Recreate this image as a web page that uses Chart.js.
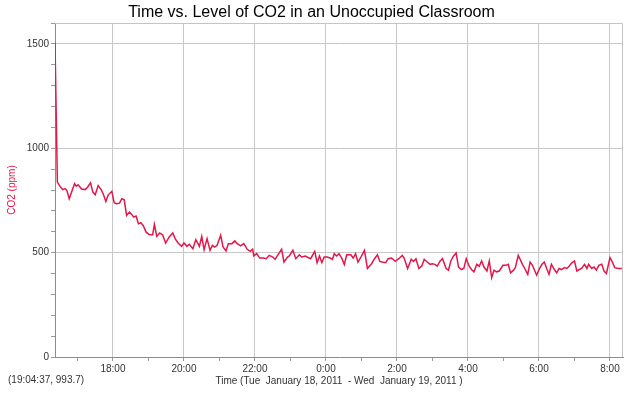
<!DOCTYPE html>
<html lang="en">
<head>
  <meta charset="UTF-8">
  <title>Time vs. Level of CO2 in an Unoccupied Classroom</title>
  <script src="https://cdn.jsdelivr.net/npm/chart.js"></script>
  <style>
    body { margin: 0; background: #fff; }
    #wrap { position: relative; width: 640px; height: 393px; }
    #cursor {
      position: absolute; left: 8px; top: 374px;
      font: 10px "Liberation Sans", Arial, sans-serif; color: #333;
    }
  </style>
</head>
<body>
  <div id="wrap">
    <canvas id="co2Chart" width="640" height="393"></canvas>
    <div id="cursor">(19:04:37, 993.7)</div>
  </div>
  <script>
    // minutes after 16:00 on Tue Jan 18, 2011
    const minutes = [
      22, 26, 31, 35, 39, 42, 46, 51, 55, 58, 61, 67, 73, 77, 82, 86, 90, 95, 100, 104,
      108, 112, 118, 122, 126, 131, 135, 139, 143, 148, 152, 155, 159, 163, 167, 171, 176, 181, 187, 190,
      194, 199, 204, 209, 215, 221, 225, 230, 236, 240, 245, 249, 255, 260, 266, 270, 274, 279, 284, 288,
      292, 296, 302, 306, 311, 315, 321, 326, 330, 336, 341, 347, 352, 356, 358, 363, 368, 374, 379, 384,
      390, 394, 399, 405, 409, 415, 418, 424, 429, 435, 439, 445, 448, 454, 461, 465, 469, 473, 477, 482,
      487, 491, 494, 498, 502, 507, 511, 515, 522, 526, 530, 534, 539, 545, 550, 557, 562, 567, 571, 575,
      581, 585, 591, 597, 603, 609, 612, 618, 624, 628, 632, 637, 642, 646, 651, 656, 660, 664, 668, 673,
      677, 683, 687, 691, 695, 700, 704, 709, 713, 717, 722, 726, 730, 735, 739, 743, 747, 752, 756, 760,
      764, 768, 773, 779, 784, 788, 792, 797, 800, 805, 812, 816, 821, 825, 829, 832, 836, 840, 845, 849,
      853, 857, 861, 866, 870, 874, 878, 883, 887, 891, 895, 900, 904, 908, 912, 917, 921, 924, 929, 933,
      937, 941, 946, 950, 954, 960, 964, 968, 974, 980
    ];

    // CO2 level, ppm
    const ppm = [
      1505, 838, 815, 802, 807, 798, 758, 798, 830, 818, 825, 805, 802, 813, 834, 790, 777, 821, 802, 777,
      745, 777, 793, 739, 734, 737, 758, 753, 678, 694, 682, 670, 675, 638, 643, 630, 598, 587, 585, 635,
      578, 594, 585, 546, 575, 594, 567, 546, 530, 546, 530, 540, 519, 562, 530, 578, 514, 567, 511, 535,
      527, 535, 583, 527, 508, 543, 543, 556, 543, 532, 543, 516, 506, 516, 484, 495, 474, 474, 471, 487,
      479, 468, 490, 516, 455, 479, 484, 511, 471, 490, 479, 484, 479, 471, 506, 452, 484, 452, 479, 479,
      474, 468, 495, 484, 495, 471, 443, 490, 490, 474, 495, 455, 479, 511, 424, 447, 471, 490, 458, 455,
      452, 471, 474, 458, 471, 487, 474, 424, 468, 458, 471, 424, 436, 468, 455, 444, 447, 444, 435, 460,
      471, 424, 416, 460, 482, 498, 431, 419, 424, 471, 435, 419, 408, 444, 435, 460, 431, 412, 460, 380,
      416, 408, 412, 439, 439, 444, 403, 416, 428, 487, 444, 424, 396, 455, 439, 419, 392, 419, 444, 455,
      424, 396, 444, 419, 403, 424, 419, 428, 424, 435, 450, 460, 412, 419, 424, 444, 424, 444, 424, 431,
      416, 439, 444, 412, 400, 476, 455, 428, 424, 424
    ];

    // hourly ticks (minutes after 16:00); labels on even hours
    const xTicks = [60, 120, 180, 240, 300, 360, 420, 480, 540, 600, 660, 720, 780, 840, 900, 960];
    const yTicks = [0, 100, 200, 300, 400, 500, 600, 700, 800, 900, 1000, 1100, 1200, 1300, 1400, 1500, 1600];

    const font = 'Liberation Sans, Arial, sans-serif';

    function hourLabel(m) {
      const h = (16 + Math.round(m / 60)) % 24;
      return h + ':00';
    }

    // light frame round the plot area
    const framePlugin = {
      id: 'frame',
      beforeDatasetsDraw(chart) {
        const a = chart.chartArea;
        const c = chart.ctx;
        c.save();
        c.strokeStyle = '#c4c4c4';
        c.lineWidth = 1;
        c.beginPath();
        c.moveTo(a.left, a.top + 0.5);
        c.lineTo(a.right - 0.5, a.top + 0.5);
        c.lineTo(a.right - 0.5, a.bottom);
        c.stroke();
        c.restore();
      }
    };

    const ctx = document.getElementById('co2Chart').getContext('2d');
    new Chart(ctx, {
      type: 'line',
      data: {
        datasets: [{
          label: 'CO2 (ppm)',
          data: minutes.map((m, i) => ({ x: m, y: ppm[i] })),
          borderColor: '#e3174b',
          borderWidth: 1.5,
          pointRadius: 0,
          tension: 0,
          fill: false
        }]
      },
      options: {
        responsive: false,
        animation: false,
        layout: { padding: { left: 0, right: 17, top: 0, bottom: 0 } },
        plugins: {
          legend: { display: false },
          tooltip: { enabled: false },
          title: {
            display: true,
            text: 'Time vs. Level of CO2 in an Unoccupied Classroom',
            color: '#000',
            font: { family: font, size: 16, weight: 'normal', lineHeight: 1.2 },
            padding: { top: 3, bottom: 0.8 }
          }
        },
        scales: {
          x: {
            type: 'linear',
            min: 22,
            max: 982,
            afterBuildTicks: s => { s.ticks = xTicks.map(v => ({ value: v })); },
            afterFit: s => { s.height = 36; },
            border: { color: '#8c8c8c', width: 1 },
            grid: {
              color: c => (c.tick && c.tick.value % 120 === 0) ? '#c8c8c8' : 'rgba(0,0,0,0)',
              tickColor: '#9a9a9a',
              tickLength: 4
            },
            ticks: {
              color: '#333',
              font: { family: font, size: 10 },
              padding: 2,
              maxRotation: 0,
              autoSkip: false,
              callback: v => (v % 120 === 0) ? hourLabel(v) : ''
            },
            title: {
              display: true,
              text: 'Time (Tue  January 18, 2011  - Wed  January 19, 2011 )',
              color: '#333',
              font: { family: font, size: 10 },
              padding: { top: 0, bottom: 6 }
            }
          },
          y: {
            min: 0,
            max: 1600,
            afterBuildTicks: s => { s.ticks = yTicks.map(v => ({ value: v })); },
            afterFit: s => { s.width = 55; },
            border: { color: '#8c8c8c', width: 1 },
            grid: {
              color: c => (c.tick && c.tick.value % 500 === 0 && c.tick.value > 0) ? '#c8c8c8' : 'rgba(0,0,0,0)',
              tickColor: '#9a9a9a',
              tickLength: 4
            },
            ticks: {
              color: '#333',
              font: { family: font, size: 10 },
              padding: 2,
              autoSkip: false,
              callback: v => (v % 500 === 0) ? String(v) : ''
            },
            title: {
              display: true,
              text: 'CO2 (ppm)',
              color: '#e3174b',
              font: { family: font, size: 10 },
              padding: { top: 6, bottom: 0 }
            }
          }
        }
      },
      plugins: [framePlugin]
    });
  </script>
</body>
</html>
